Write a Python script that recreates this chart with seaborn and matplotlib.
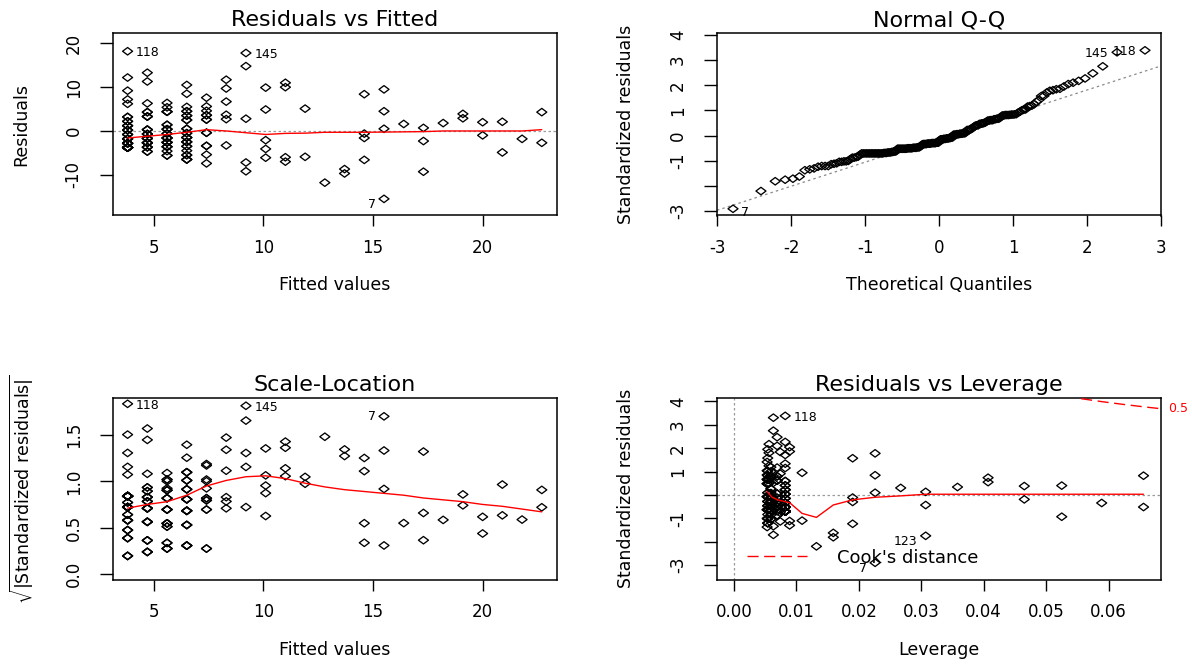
import numpy as np
import pandas as pd
import matplotlib
matplotlib.use("Agg")
import matplotlib.pyplot as plt
import matplotlib.transforms as mtransforms
from matplotlib.path import Path
from matplotlib.lines import Line2D
import seaborn as sns
from statistics import NormalDist

# ---------------- data ----------------
fitted_levels = [3.8, 4.7, 5.6, 6.5, 7.4, 8.3, 9.2, 10.1, 11.0, 11.9, 12.8,
                 13.7, 14.6, 15.5, 16.4, 17.3, 18.2, 19.1, 20.0, 20.9, 21.8, 22.7]
leverage_levels = [0.0082, 0.0069, 0.0059, 0.0054, 0.0053, 0.0056, 0.0063, 0.0074,
                   0.0089, 0.0109, 0.0132, 0.0159, 0.0190, 0.0226, 0.0267, 0.0307,
                   0.0358, 0.0407, 0.0465, 0.0525, 0.0589, 0.0656]
resid_by_level = [
    [-3.8] * 15 + [-2.8] * 8 + [-1.8] * 4 + [-0.8] * 3 + [0.2] * 3 + [1.2] * 3
    + [2.2] * 2 + [3.2] * 2 + [6.2, 7.2, 9.2, 12.2, 18.2],
    [-4.7] * 2 + [-3.7] * 3 + [-2.7] * 5 + [-1.7] * 4 + [-0.7] * 3 + [0.3] * 3
    + [3.3] * 3 + [4.3] * 2 + [6.3, 11.3, 13.3],
    [-5.6] * 2 + [-4.6] + [-3.6] * 3 + [-2.6] * 4 + [-1.6] * 4 + [-0.6] * 2
    + [0.4] * 3 + [1.4] * 2 + [4.4] * 3 + [5.4, 6.4],
    [-6.5] * 3 + [-5.5] * 2 + [-4.5] + [-3.5] * 2 + [-2.5] * 3 + [-1.5] * 3
    + [-0.5] * 2 + [0.5] * 2 + [2.5] * 2 + [3.5] * 2 + [4.5] * 2 + [5.5, 8.5, 10.5],
    [-7.4, -5.4, -3.4, -3.4, -0.4, -0.4, 2.6, 2.6, 3.6, 3.6, 4.6, 5.6, 7.6],
    [-3.3, 2.7, 3.7, 6.7, 9.7, 11.7],
    [-9.2, -7.2, 2.8, 14.8, 17.8],
    [-6.1, -4.1, -2.1, 4.9, 9.9],
    [-7.0, -6.0, 10.0, 11.0],
    [-5.9, 5.1],
    [-11.8],
    [-9.7, -8.7],
    [-6.6, -1.6, -0.6, 8.4],
    [-15.5, 0.5, 4.5, 9.5],
    [1.6],
    [-9.3, -2.3, 0.7],
    [1.8],
    [2.9, 3.9],
    [-1.0, 2.0],
    [-4.9, 2.1],
    [-1.8],
    [-2.7, 4.3],
]
residual_sigma = 5.40

# smoother (red) lines
smooth_fit_y = [-1.6, -1.2, -0.8, -0.3, 0.3, 0.0, -0.4, -0.8, -0.55, -0.5, -0.3,
                -0.3, -0.3, -0.25, -0.2, -0.15, 0.0, 0.0, 0.0, 0.0, 0.0, 0.3]
smooth_scale_y = [0.71, 0.75, 0.78, 0.85, 0.95, 1.01, 1.05, 1.06, 1.03, 0.98, 0.94,
                  0.91, 0.89, 0.87, 0.85, 0.82, 0.80, 0.78, 0.75, 0.73, 0.70, 0.67]
smooth_lev_x = [0.0053, 0.0061, 0.0070, 0.0082, 0.0089, 0.0109, 0.0132, 0.0159, 0.0190,
                0.0226, 0.0267, 0.0307, 0.0358, 0.0407, 0.0465, 0.0525, 0.0589, 0.0656]
smooth_lev_y = [0.14, -0.10, -0.21, -0.29, -0.33, -0.79, -0.96, -0.43, -0.21,
                -0.10, -0.04, 0.03, 0.03, 0.03, 0.03, 0.03, 0.03, 0.03]

# Cook's distance 0.5 contour (upper right)
cook_lev = [0.0556, 0.0590, 0.0625, 0.0660, 0.0684]
cook_std = [4.12, 3.99, 3.87, 3.76, 3.69]

# Q-Q reference line
qq_intercept = -0.10
qq_slope = 0.955

# labelled observations: id -> (fitted, residual)
labelled = {"118": (3.8, 18.2), "145": (9.2, 17.8), "7": (15.5, -15.5), "123": (17.3, -9.3)}

# ---------------- derived table ----------------
rows = []
for f, h, rs in zip(fitted_levels, leverage_levels, resid_by_level):
    for r in rs:
        rows.append((f, h, r))
df = pd.DataFrame(rows, columns=["fitted", "leverage", "resid"])
df["std"] = df["resid"] / (residual_sigma * np.sqrt(1 - df["leverage"]))
df["root"] = np.sqrt(np.abs(df["std"]))
df = df.sort_values("std", kind="mergesort").reset_index(drop=True)
n = len(df)
nd = NormalDist()
df["theo"] = [nd.inv_cdf((i + 0.5) / n) for i in range(n)]


def row_of(key):
    f, r = labelled[key]
    m = np.isclose(df["fitted"], f) & np.isclose(df["resid"], r)
    return df[m].iloc[0]


# ---------------- style ----------------
sns.set_theme(style="ticks")
plt.rcParams.update({
    "font.family": ["DejaVu Sans"],
    "mathtext.fontset": "dejavusans",
    "axes.unicode_minus": False,
    "axes.edgecolor": "black",
    "axes.linewidth": 1.1,
    "axes.facecolor": "white",
    "figure.facecolor": "white",
    "xtick.color": "black",
    "ytick.color": "black",
    "text.color": "black",
    "axes.labelcolor": "black",
})

W, H = 1192, 664
fig = plt.figure(figsize=(W / 100, H / 100), dpi=100)
colL, colR = 112.7 / W, 717 / W
aw = 444 / W
ax1 = fig.add_axes([colL, 1 - 215.5 / H, aw, 182.2 / H])
ax2 = fig.add_axes([colR, 1 - 215.5 / H, aw, 182.2 / H])
ax3 = fig.add_axes([colL, 1 - 580 / H, aw, 182.5 / H])
ax4 = fig.add_axes([colR, 1 - 580 / H, aw, 182.5 / H])

diamond = Path([(0, -0.75), (1, 0), (0, 0.75), (-1, 0), (0, -0.75)],
               [Path.MOVETO, Path.LINETO, Path.LINETO, Path.LINETO, Path.CLOSEPOLY])
pt_kw = dict(marker=diamond, s=52, facecolor="none", edgecolor="black",
             linewidth=0.95, legend=False, zorder=3)
red_kw = dict(color="red", linewidth=1.0, sort=False, estimator=None, legend=False, zorder=4)
TICK_FS, LAB_FS, TITLE_FS, ID_FS = 12, 12.5, 16, 9


def style_axes(ax, title, xlabel, ylabel):
    ax.set_title(title, fontsize=TITLE_FS, pad=5)
    ax.set_xlabel(xlabel, fontsize=LAB_FS)
    ax.set_ylabel(ylabel, fontsize=LAB_FS)
    ax.xaxis.set_label_coords(0.5, -70 / 182.2)
    ax.xaxis.label.set_va("center")
    ax.yaxis.set_label_coords(-91 / 444, 0.5)
    ax.yaxis.label.set_va("center")
    ax.tick_params(axis="x", direction="out", length=7.7, width=1.0, pad=9,
                   labelsize=TICK_FS)
    ax.tick_params(axis="y", direction="out", length=9.6, width=1.0, pad=12,
                   labelsize=TICK_FS, labelrotation=90)
    for lab in ax.get_yticklabels():
        lab.set_va("center")
    for sp in ax.spines.values():
        sp.set_visible(True)
        sp.set_color("black")
        sp.set_linewidth(1.1)
    ax.grid(False)


def put_id(ax, x, y, txt, side, dy=0):
    dx = 6 if side == "right" else -6
    ax.annotate(txt, (x, y), xytext=(dx, dy), textcoords="offset points",
                ha="left" if side == "right" else "right", va="center",
                fontsize=ID_FS, color="black", zorder=5)


# ---- Panel 1: Residuals vs Fitted ----
ax1.axhline(0, color="#9a9a9a", ls=(0, (2, 2)), lw=0.9, zorder=1)
sns.scatterplot(data=df, x="fitted", y="resid", ax=ax1, **pt_kw)
sns.lineplot(x=fitted_levels, y=smooth_fit_y, ax=ax1, **red_kw)
ax1.set_xlim(3.12, 23.38)
ax1.set_ylim(-19.3, 22.3)
ax1.set_xticks([5, 10, 15, 20])
ax1.set_yticks([-10, 0, 10, 20])
ax1.set_yticklabels(["-10", "0", "10", "20"])
style_axes(ax1, "Residuals vs Fitted", "Fitted values", "Residuals")
for key, side, dy in [("118", "right", -1), ("145", "right", -1), ("7", "left", -4)]:
    r = row_of(key)
    put_id(ax1, r["fitted"], r["resid"], key, side, dy)

# ---- Panel 2: Normal Q-Q ----
qx = np.array([-3.0, 3.0])
sns.lineplot(x=qx, y=qq_intercept + qq_slope * qx, ax=ax2, color="#8a8a8a",
             linestyle=(0, (2, 2.5)), linewidth=0.9, legend=False, zorder=1)
sns.scatterplot(data=df, x="theo", y="std", ax=ax2, **pt_kw)
ax2.set_xlim(-3.0, 3.0)
ax2.set_ylim(-3.17, 4.06)
ax2.set_xticks([-3, -2, -1, 0, 1, 2, 3])
ax2.set_yticks([-3, -2, -1, 0, 1, 2, 3, 4])
ax2.set_yticklabels(["-3", "", "-1", "0", "1", "2", "3", "4"])
style_axes(ax2, "Normal Q-Q", "Theoretical Quantiles", "Standardized residuals")
for key, side, dy in [("145", "left", -1), ("118", "left", -1), ("7", "right", -3)]:
    r = row_of(key)
    put_id(ax2, r["theo"], r["std"], key, side, dy)

# ---- Panel 3: Scale-Location ----
sns.scatterplot(data=df, x="fitted", y="root", ax=ax3, **pt_kw)
sns.lineplot(x=fitted_levels, y=smooth_scale_y, ax=ax3, **red_kw)
ax3.set_xlim(3.12, 23.38)
ax3.set_ylim(-0.068, 1.908)
ax3.set_xticks([5, 10, 15, 20])
ax3.set_yticks([0, 0.5, 1.0, 1.5])
ax3.set_yticklabels(["0.0", "0.5", "1.0", "1.5"])
style_axes(ax3, "Scale-Location", "Fitted values",
           r"$\sqrt{|\mathrm{Standardized\ residuals}|}$")
for key, side, dy in [("118", "right", -1), ("145", "right", -1), ("7", "left", 0)]:
    r = row_of(key)
    put_id(ax3, r["fitted"], r["root"], key, side, dy)

# ---- Panel 4: Residuals vs Leverage ----
ax4.axhline(0, color="#9a9a9a", ls=(0, (2, 2)), lw=0.9, zorder=1)
ax4.axvline(0, color="#9a9a9a", ls=(0, (2, 2)), lw=0.9, zorder=1)
sns.scatterplot(data=df, x="leverage", y="std", ax=ax4, **pt_kw)
sns.lineplot(x=smooth_lev_x, y=smooth_lev_y, ax=ax4, **red_kw)
sns.lineplot(x=cook_lev, y=cook_std, ax=ax4, color="red", linestyle=(0, (8, 4)),
             linewidth=1.0, sort=False, estimator=None, legend=False, zorder=4)
ax4.set_xlim(-0.00273, 0.0684)
ax4.set_ylim(-3.64, 4.17)
ax4.set_xticks([0.0, 0.01, 0.02, 0.03, 0.04, 0.05, 0.06])
ax4.set_xticklabels(["0.00", "0.01", "0.02", "0.03", "0.04", "0.05", "0.06"])
ax4.set_yticks([-3, -2, -1, 0, 1, 2, 3, 4])
ax4.set_yticklabels(["-3", "", "-1", "", "1", "2", "3", "4"])
style_axes(ax4, "Residuals vs Leverage", "Leverage", "Standardized residuals")
for key, side, dy in [("118", "right", -1), ("123", "left", -4), ("7", "left", -4)]:
    r = row_of(key)
    put_id(ax4, r["leverage"], r["std"], key, side, dy)
trans = mtransforms.blended_transform_factory(ax4.transAxes, ax4.transData)
ax4.text(1.016, cook_std[-1], "0.5", transform=trans, color="red", fontsize=9,
         ha="left", va="center", clip_on=False)
handle = Line2D([], [], color="red", linestyle=(0, (8, 4)), linewidth=1.0)
ax4.legend(handles=[handle], labels=["Cook's distance"], loc="center left",
           bbox_to_anchor=(0.068, 0.1216), frameon=False, fontsize=13,
           handlelength=3.3, handletextpad=1.65, borderpad=0, borderaxespad=0)

fig.savefig("out.png", dpi=100)
